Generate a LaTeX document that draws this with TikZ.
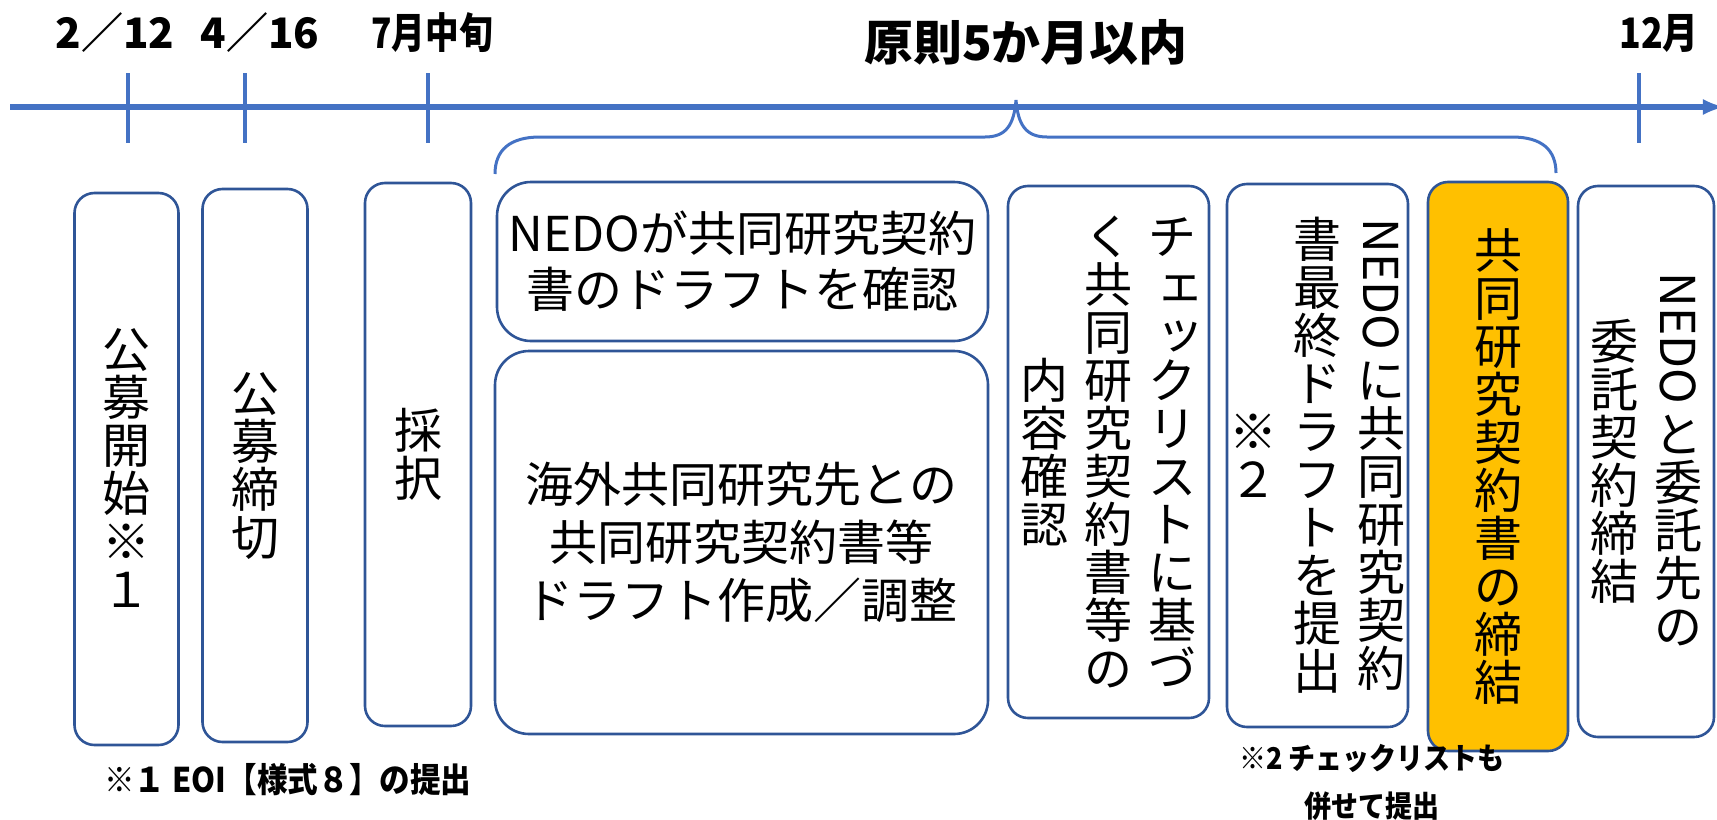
\documentclass[tikz,border=0pt]{standalone}
\usepackage{fontspec}
\newfontfamily\jp{Noto Sans CJK JP}
\usetikzlibrary{arrows}
\definecolor{lineblue}{HTML}{4472C4}
\definecolor{boxblue}{HTML}{2F5597}
\definecolor{signorange}{HTML}{FFC000}
% vertical column of characters, one per cell; {\Y text} is set sideways
\makeatletter
\newlength\tate@tmp
\def\Y{yoko-marker}
\newcommand\tatecol[1]{$\vcenter{\offinterlineskip
  \@tfor\tate@ch:=#1\do{\expandafter\tate@put\tate@ch\@nil}}$}
\def\tate@put#1#2\@nil{%
  \ifx#1\Y
    \setbox\tw@\hbox{#2}%
    \tate@tmp\wd\tw@
    \hbox to 1em{\hss\raisebox{\z@}[\z@][\tate@tmp]{\rotatebox{-90}{\box\tw@}}\hss}\kern.12em
  \else
    \hbox to 1em{\hss\raisebox{\z@}[.88em][.12em]{#1#2}\hss}%
  \fi}
\makeatother
\newcommand\sk[1]{\hbox to 1em{\hskip.16em\raisebox{.04em}{#1}\hss}}
\newcommand\colgap{\hskip8pt}
\tikzset{stage/.style={draw=boxblue, line width=1.3pt, rounded corners=10pt, inner sep=0pt, align=center, font=\jp\fontsize{24}{31}\selectfont}}
\tikzset{flatstage/.style={draw=boxblue, line width=1.3pt, rounded corners=17pt, inner sep=0pt, align=center, font=\jp\fontsize{24}{28}\selectfont}}
\tikzset{datelab/.style={font=\jp\bfseries\fontsize{21}{26}\selectfont}}
\tikzset{axis/.style={lineblue, line width=2.6pt}}

\begin{document}
\begin{tikzpicture}[x=0.5pt,y=-0.5pt]
  \useasboundingbox (0,0) rectangle (1717,819);
  % time axis
  \draw[axis, -latex] (10,107) -- (1724,107);
  \foreach \x in {128,245,428,1639} {
    \draw[axis, line width=2.4pt] (\x,73) -- (\x,143);
  }
  \node[datelab] (d0212) at (115,33) {2／12};
  \node[datelab] (d0416) at (260,33) {4／16};
  \node[datelab, xscale=.8] (july) at (432,33) {7月中旬};
  \node[datelab, font=\jp\bfseries\fontsize{24}{28}\selectfont, xscale=1.02] (limit) at (1026,42) {原則5か月以内};
  \node[datelab, xscale=.85] (dec) at (1659,33) {12月};
  % brace
  \draw[lineblue, line width=1.5pt] (495,174) .. controls (495,150) and (510,137) .. (540,137)
    -- (985,137) .. controls (1006,137) and (1014,125) .. (1016,100)
    .. controls (1018,125) and (1026,137) .. (1047,137)
    -- (1512,137) .. controls (1542,137) and (1556,150) .. (1556,173);
  % stages
  \foreach \x/\y/\w/\h/\lab/\txt in {
    126.5/469/104/552/open/{\tatecol{公募開始※１}},
    255/465.5/105/553/close/{\tatecol{公募締切}},
    418/454.5/106/543/select/{\tatecol{採択}},
    1108.5/452/201/532/check/{\tatecol{内容確認}\colgap\tatecol{く共同研究契約書等の}\colgap\tatecol{チ{\sk{ェ}}{\sk{ッ}}クリストに基づ}},
    1317.5/455.5/181/543/final/{\tatecol{※２}\colgap\tatecol{書最終ドラフトを提出}\colgap\tatecol{{\Y NEDO}に共同研究契約}},
    1646/461.5/136/551/entrust/{\tatecol{委託契約締結}\colgap\tatecol{{\Y NEDO}と委託先の}}%
  } {
    \node[stage, minimum width=0.5*\w pt, minimum height=0.5*\h pt] (\lab) at (\x,\y) {\txt};
  }
  \node[stage, fill=signorange, minimum width=70pt, minimum height=284.5pt] (sign) at (1498,466.5) {\tatecol{共同研究契約書の締結}};
  \node[flatstage, minimum width=245.5pt, minimum height=79.5pt] (confirm) at (742.5,261.5) {NEDOが共同研究契約\\書のドラフトを確認};
  \node[flatstage, font=\jp\fontsize{24}{29}\selectfont, minimum width=246.5pt, minimum height=191.5pt] (draft) at (741.5,542.5) {海外共同研究先との\\共同研究契約書等\\ドラフト作成／調整};
  % notes
  \node[font=\jp\bfseries\fontsize{17}{20}\selectfont, xscale=.9, anchor=west] (note1) at (98,780) {※１ EOI【様式８】の提出};
  \node[font=\jp\bfseries\fontsize{15}{24}\selectfont, xscale=.9, align=center] (note2) at (1372,782) {※2 チェックリストも\\併せて提出};
\end{tikzpicture}
\end{document}
